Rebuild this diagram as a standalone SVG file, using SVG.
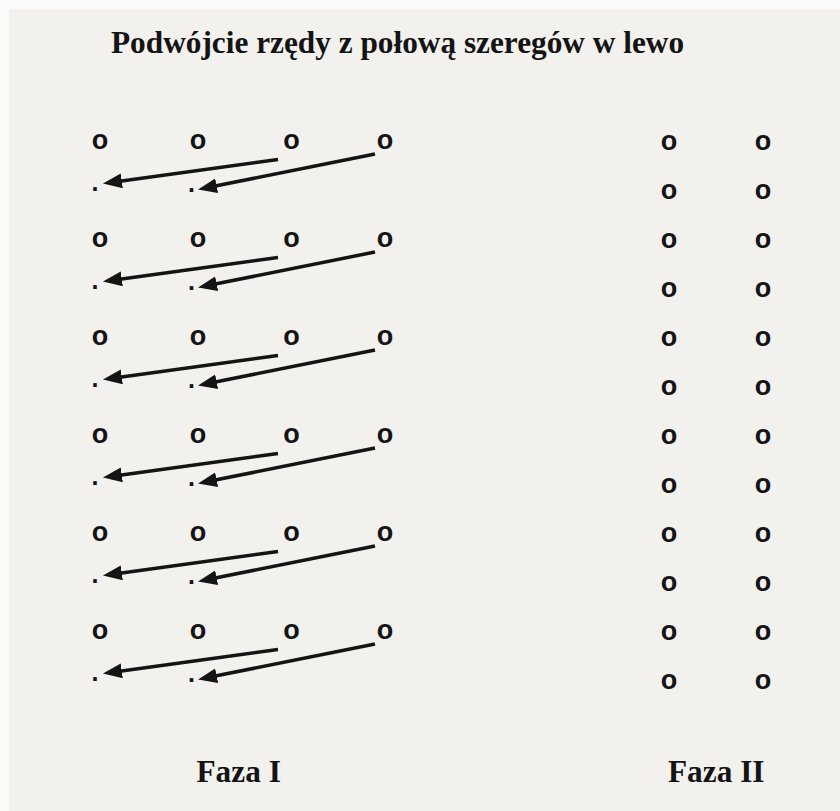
<svg xmlns="http://www.w3.org/2000/svg" width="840" height="811" viewBox="0 0 840 811">
<style>
.t{font-family:"Liberation Serif","Times New Roman",serif;font-weight:bold;font-size:31.3px;fill:#141414}
.o{font-family:"Liberation Sans",Arial,sans-serif;font-weight:bold;font-size:27px;fill:#141414;text-anchor:middle}
.d{font-family:"Liberation Sans",Arial,sans-serif;font-weight:bold;font-size:25px;fill:#141414;text-anchor:middle}
.a{stroke:#141414;stroke-width:3.5;fill:none;marker-end:url(#ah)}
</style>
<defs>
<marker id="ah" markerUnits="userSpaceOnUse" markerWidth="22" markerHeight="16" refX="13" refY="7.5" orient="auto" viewBox="0 0 22 16">
<path d="M0,0 L19,7.5 L0,15 z" fill="#141414"/>
</marker>
<g id="rowI">
<text class="o" x="100" y="149">o</text>
<text class="o" x="198" y="149">o</text>
<text class="o" x="291.5" y="149">o</text>
<text class="o" x="385" y="149">o</text>
<text class="d" x="95" y="190.5">.</text>
<text class="d" x="191.5" y="191.5">.</text>
</g>
<g id="arrI">
<line class="a" x1="278" y1="159.5" x2="108.9" y2="182.7"/>
<line class="a" x1="375" y1="154" x2="203.9" y2="188.3"/>
</g>
</defs>
<rect x="0" y="0" width="840" height="811" fill="#fbfbfa"/>
<rect x="9" y="9" width="831" height="802" fill="#f2f1ee"/>
<g id="title"><text class="t" x="111" y="53">Podwójcie rzędy z połową szeregów w lewo</text></g>
<g id="faza1">
<use id="r1" href="#rowI"/>
<use id="r2" href="#rowI" y="98"/>
<use id="r3" href="#rowI" y="196"/>
<use id="r4" href="#rowI" y="294"/>
<use id="r5" href="#rowI" y="392"/>
<use id="r6" href="#rowI" y="490"/>
</g>
<g id="connectors">
<use href="#arrI"/>
<use href="#arrI" y="98"/>
<use href="#arrI" y="196"/>
<use href="#arrI" y="294"/>
<use href="#arrI" y="392"/>
<use href="#arrI" y="490"/>
</g>
<g id="faza2">
<text class="o" x="669" y="150">o</text><text class="o" x="763" y="150">o</text>
<text class="o" x="669" y="199">o</text><text class="o" x="763" y="199">o</text>
<text class="o" x="669" y="248">o</text><text class="o" x="763" y="248">o</text>
<text class="o" x="669" y="297">o</text><text class="o" x="763" y="297">o</text>
<text class="o" x="669" y="346">o</text><text class="o" x="763" y="346">o</text>
<text class="o" x="669" y="395">o</text><text class="o" x="763" y="395">o</text>
<text class="o" x="669" y="444">o</text><text class="o" x="763" y="444">o</text>
<text class="o" x="669" y="493">o</text><text class="o" x="763" y="493">o</text>
<text class="o" x="669" y="542">o</text><text class="o" x="763" y="542">o</text>
<text class="o" x="669" y="591">o</text><text class="o" x="763" y="591">o</text>
<text class="o" x="669" y="640">o</text><text class="o" x="763" y="640">o</text>
<text class="o" x="669" y="689">o</text><text class="o" x="763" y="689">o</text>
</g>
<g id="label1"><text class="t" x="196.5" y="782">Faza I</text></g>
<g id="label2"><text class="t" x="668" y="782">Faza II</text></g>
</svg>
